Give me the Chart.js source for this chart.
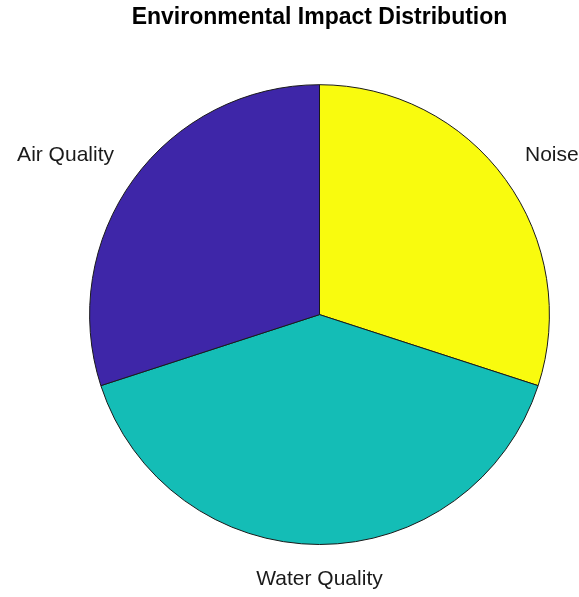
<!DOCTYPE html>
<html>
<head>
<meta charset="utf-8">
<script src="https://cdn.jsdelivr.net/npm/chart.js@4.4.1/dist/chart.umd.min.js"></script>
<style>
  html, body { margin: 0; padding: 0; background: #ffffff; }
  #wrap { width: 579px; height: 597px; position: relative; }
</style>
</head>
<body>
<div id="wrap"><canvas id="pie"></canvas></div>
<script>
// Impact categories and their shares (percent)
const categories = ['Air Quality', 'Water Quality', 'Noise'];
const shares = [30, 40, 30];
// parula-style slice colours
const sliceColors = ['#3E26A8', '#14BDB6', '#F9FB0E'];
const chartTitle = 'Environmental Impact Distribution';

// Slices run counter-clockwise from 12 o'clock, so hand them to the
// (clockwise) pie in reverse order.
const labels = categories.slice().reverse();
const values = shares.slice().reverse();
const colors = sliceColors.slice().reverse();

const FONT = '"Liberation Sans", Arial, Helvetica, sans-serif';

// Category names placed just outside the rim, at each slice's mid-angle
const outerLabels = {
  id: 'outerLabels',
  afterDatasetsDraw(chart) {
    const ctx = chart.ctx;
    const meta = chart.getDatasetMeta(0);
    ctx.save();
    ctx.font = '21px ' + FONT;
    ctx.fillStyle = '#1a1a1a';
    meta.data.forEach((arc, i) => {
      const p = arc.getProps(['x', 'y', 'startAngle', 'endAngle', 'outerRadius'], true);
      const mid = (p.startAngle + p.endAngle) / 2;
      const r = p.outerRadius * 1.105;
      const c = Math.cos(mid), s = Math.sin(mid);
      const tx = p.x + c * r;
      const ty = p.y + s * r;
      ctx.textAlign = c > 0.05 ? 'left' : (c < -0.05 ? 'right' : 'center');
      ctx.textBaseline = s < 0 ? 'bottom' : 'top';
      ctx.fillText(chart.data.labels[i], tx, ty);
    });
    ctx.restore();
  }
};

new Chart(document.getElementById('pie'), {
  type: 'pie',
  data: {
    labels: labels,
    datasets: [{
      data: values,
      backgroundColor: colors,
      borderColor: '#1a1a1a',
      borderWidth: 1,
      hoverOffset: 0
    }]
  },
  options: {
    responsive: true,
    maintainAspectRatio: false,
    animation: false,
    rotation: 0,
    layout: { padding: { top: 0, left: 89, right: 29, bottom: 52 } },
    plugins: {
      legend: { display: false },
      tooltip: { enabled: false },
      title: {
        display: true,
        text: chartTitle,
        color: '#000000',
        font: { family: FONT, size: 23, weight: 'bold', lineHeight: 1.2 },
        padding: { top: 4, bottom: 52.6 }
      }
    }
  },
  plugins: [outerLabels]
});
</script>
</body>
</html>
